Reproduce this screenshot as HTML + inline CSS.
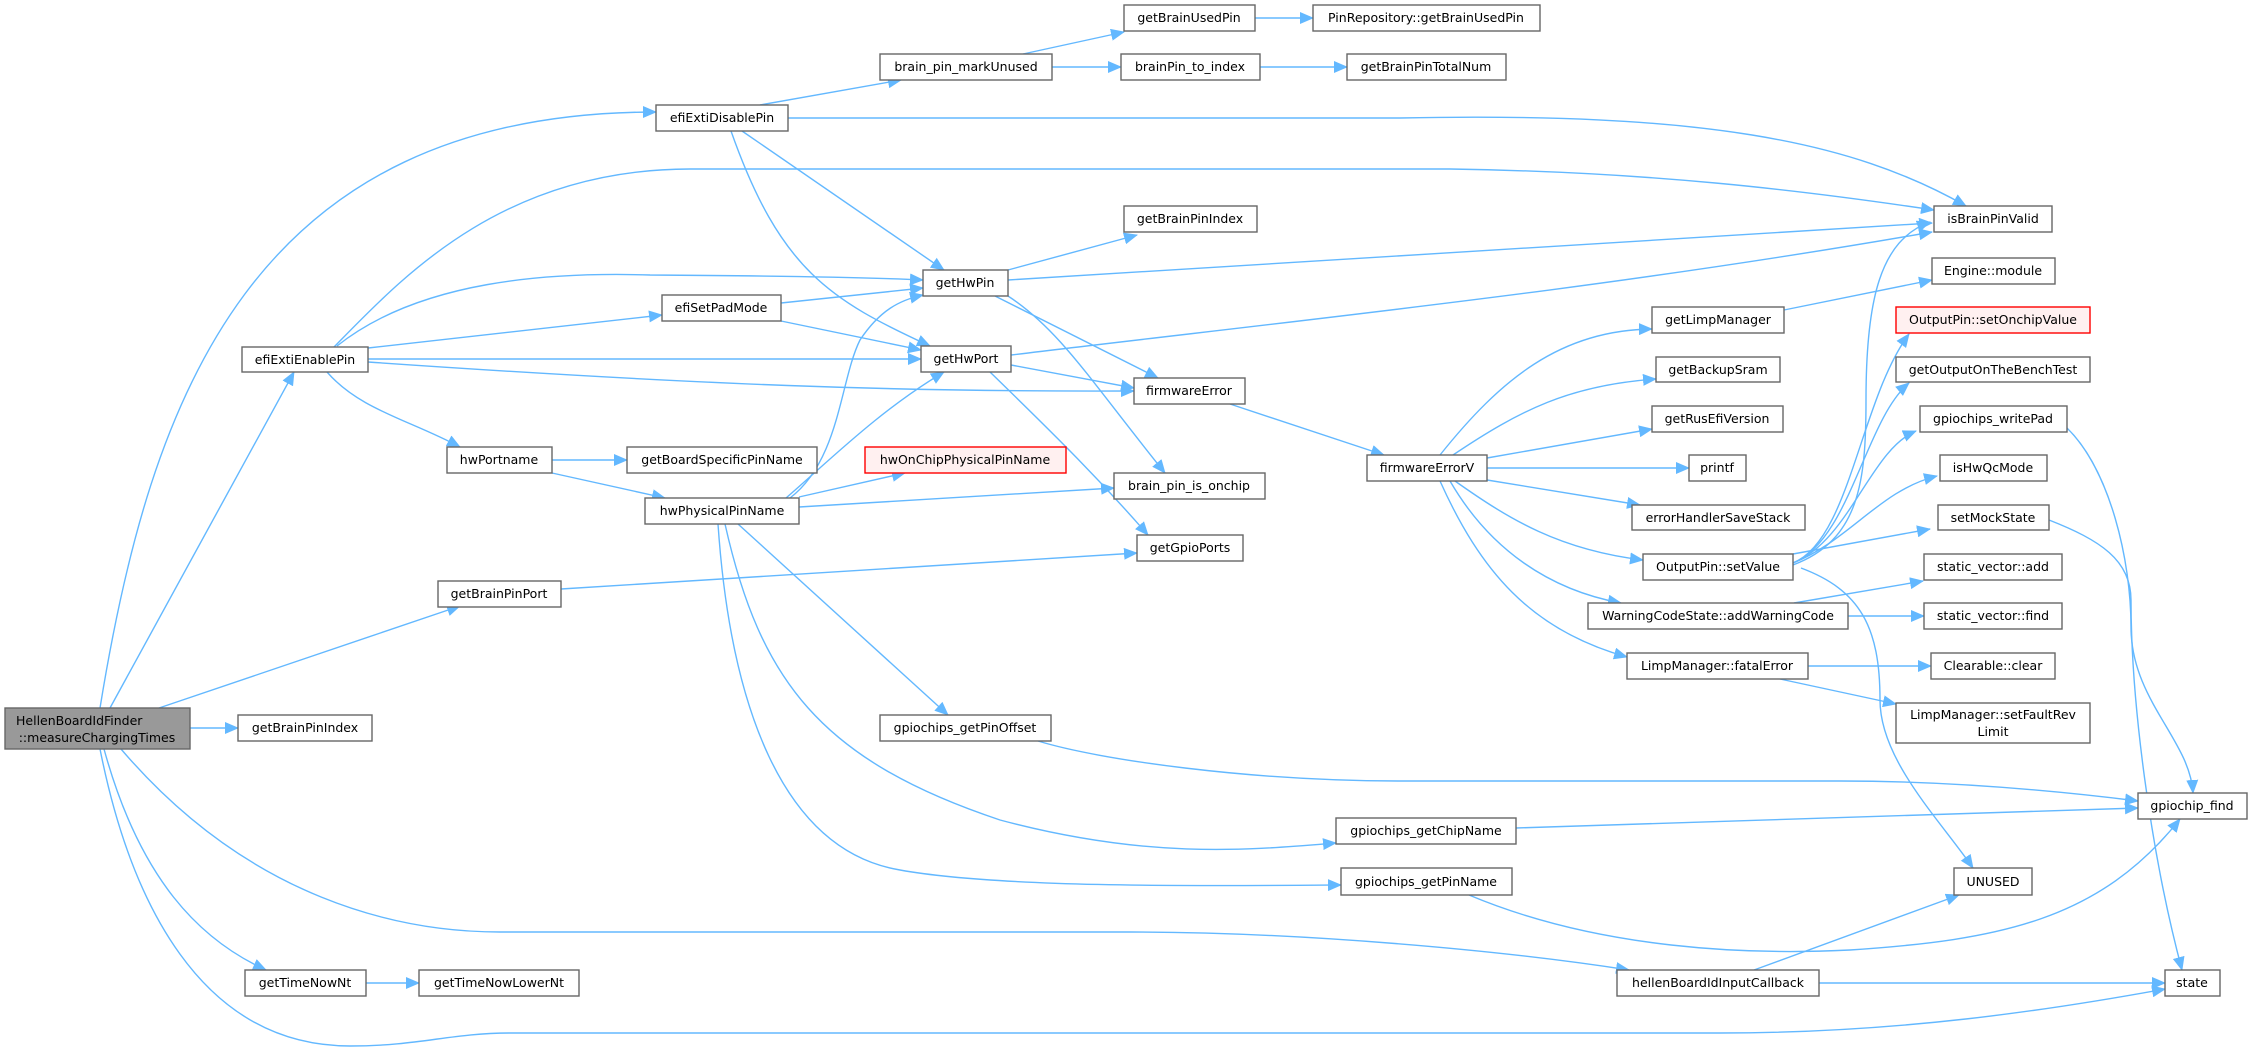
<!DOCTYPE html>
<html><head><meta charset="utf-8"><style>
html,body{margin:0;padding:0;background:#fff;}
svg{display:block;}
text{font-family:"DejaVu Sans","Liberation Sans",sans-serif;font-size:12.5px;fill:#000;}
.n{fill:#fff;stroke:#666;stroke-width:1.4;}
.e{fill:none;stroke:#63b8ff;stroke-width:1.4;}
</style></head><body>
<svg width="2252" height="1052" viewBox="0 0 2252 1052" xmlns="http://www.w3.org/2000/svg">
<defs><marker id="a" markerUnits="userSpaceOnUse" markerWidth="14" markerHeight="12" refX="13" refY="6" orient="auto"><path d="M0,0 L14,6 L0,12 z" fill="#63b8ff"/></marker></defs>
<g class="e" marker-end="url(#a)">
<path d="M100,708 C150,400 250,112 656,112"/>
<path d="M110,708 L294,372"/>
<path d="M159,708 L460,606"/>
<path d="M190,728 L238,728"/>
<path d="M104,749 C140,880 200,940 266,970"/>
<path d="M121,749 C250,900 400,932 500,932 L1130,932 C1300,932 1500,950 1629,970"/>
<path d="M100,749 C130,900 200,1046 350,1046 C420,1046 450,1033 510,1033 L1720,1033 C1900,1033 2050,1010 2165,989"/>
<path d="M760,105 L901,80"/>
<path d="M788,118 L1400,118 C1700,112 1850,140 1966,206"/>
<path d="M742,131 L944,270"/>
<path d="M731,131 C780,270 830,300 930,346"/>
<path d="M1023,54 L1124,32"/>
<path d="M1052,67 L1121,67"/>
<path d="M1255,18 L1313,18"/>
<path d="M1260,67 L1347,67"/>
<path d="M334,347 C400,280 500,169 690,169 L1450,169 C1650,172 1800,190 1934,210"/>
<path d="M337,346 C420,280 550,272 650,275 C800,276 880,278 923,280"/>
<path d="M368,348 L662,315"/>
<path d="M368,359 L921,359"/>
<path d="M368,362 C700,385 900,392 1134,391"/>
<path d="M327,372 C360,410 410,420 460,447"/>
<path d="M781,303 L923,288"/>
<path d="M781,321 L921,350"/>
<path d="M1008,270 L1137,235"/>
<path d="M1008,280 L1932,223"/>
<path d="M995,296 L1158,378"/>
<path d="M1008,296 C1060,330 1090,380 1165,473"/>
<path d="M1011,355 C1300,320 1600,290 1932,232"/>
<path d="M1011,365 L1134,388"/>
<path d="M990,372 C1060,440 1100,480 1148,535"/>
<path d="M552,460 L627,460"/>
<path d="M552,473 L665,498"/>
<path d="M790,498 C840,460 840,380 860,340 C880,310 900,300 923,295"/>
<path d="M786,498 C830,460 880,410 944,372"/>
<path d="M799,497 L905,473"/>
<path d="M799,507 L1114,488"/>
<path d="M738,524 L948,715"/>
<path d="M725,524 C760,680 820,760 1000,820 C1150,860 1250,850 1336,843"/>
<path d="M718,524 C730,700 780,850 900,870 C1000,888 1200,886 1341,885"/>
<path d="M561,589 L1137,553"/>
<path d="M1230,404 L1384,455"/>
<path d="M1440,455 C1500,380 1560,330 1652,329"/>
<path d="M1453,455 C1520,410 1570,385 1656,379"/>
<path d="M1487,458 L1652,429"/>
<path d="M1487,468 L1689,468"/>
<path d="M1487,480 L1640,505"/>
<path d="M1455,481 C1510,520 1560,550 1643,560"/>
<path d="M1450,481 C1490,550 1550,590 1621,603"/>
<path d="M1440,481 C1480,570 1530,630 1627,657"/>
<path d="M1784,310 L1932,280"/>
<path d="M1793,565 C1860,540 1866,480 1866,400 C1866,300 1880,240 1930,222"/>
<path d="M1793,563 C1850,540 1860,400 1909,334"/>
<path d="M1793,563 C1850,540 1865,420 1909,383"/>
<path d="M1793,563 C1850,540 1870,450 1916,431"/>
<path d="M1793,563 C1850,540 1880,490 1937,476"/>
<path d="M1793,554 L1930,529"/>
<path d="M1801,568 C1860,590 1880,627 1880,700 C1880,760 1940,820 1973,868"/>
<path d="M1794,603 L1923,581"/>
<path d="M1848,616 L1924,616"/>
<path d="M1808,666 L1931,666"/>
<path d="M1780,679 L1896,704"/>
<path d="M2067,428 C2110,470 2131,560 2131,627 C2131,700 2190,740 2193,793"/>
<path d="M2049,520 C2100,540 2131,560 2131,600 C2131,700 2150,850 2182,970"/>
<path d="M1038,741 C1100,760 1250,781 1400,781 L1840,781 C1950,781 2050,790 2138,801"/>
<path d="M1516,828 L2138,808"/>
<path d="M1469,895 C1600,950 1750,955 1850,950 C2000,940 2100,920 2180,819"/>
<path d="M1754,970 L1959,895"/>
<path d="M1819,983 L2165,983"/>
<path d="M366,983 L419,983"/>
</g>
<g text-anchor="middle">
<rect x="5" y="708" width="185" height="41" style="fill:#999;stroke:#666;stroke-width:1.4"/>
<text x="16" y="725" text-anchor="start">HellenBoardIdFinder</text><text x="97" y="742">::measureChargingTimes</text>
<rect class="n" x="238" y="715" width="134" height="26"/><text x="305" y="732">getBrainPinIndex</text>
<rect class="n" x="656" y="105" width="132" height="26"/><text x="722" y="122">efiExtiDisablePin</text>
<rect class="n" x="880" y="54" width="172" height="26"/><text x="966" y="71">brain_pin_markUnused</text>
<rect class="n" x="1124" y="5" width="131" height="26"/><text x="1189" y="22">getBrainUsedPin</text>
<rect class="n" x="1313" y="5" width="227" height="26"/><text x="1426" y="22">PinRepository::getBrainUsedPin</text>
<rect class="n" x="1121" y="54" width="139" height="26"/><text x="1190" y="71">brainPin_to_index</text>
<rect class="n" x="1347" y="54" width="159" height="26"/><text x="1426" y="71">getBrainPinTotalNum</text>
<rect class="n" x="1124" y="206" width="133" height="26"/><text x="1190" y="223">getBrainPinIndex</text>
<rect class="n" x="1934" y="206" width="118" height="26"/><text x="1993" y="223">isBrainPinValid</text>
<rect class="n" x="1932" y="258" width="123" height="26"/><text x="1993" y="275">Engine::module</text>
<rect class="n" x="923" y="270" width="85" height="26"/><text x="965" y="287">getHwPin</text>
<rect class="n" x="662" y="295" width="119" height="26"/><text x="721" y="312">efiSetPadMode</text>
<rect class="n" x="1652" y="307" width="132" height="26"/><text x="1718" y="324">getLimpManager</text>
<rect x="1896" y="307" width="194" height="26" style="fill:#fff0f0;stroke:#f00;stroke-width:1.4"/><text x="1993" y="324">OutputPin::setOnchipValue</text>
<rect class="n" x="242" y="347" width="126" height="25"/><text x="305" y="364">efiExtiEnablePin</text>
<rect class="n" x="921" y="346" width="90" height="26"/><text x="966" y="363">getHwPort</text>
<rect class="n" x="1656" y="357" width="124" height="25"/><text x="1718" y="374">getBackupSram</text>
<rect class="n" x="1896" y="357" width="194" height="25"/><text x="1993" y="374">getOutputOnTheBenchTest</text>
<rect class="n" x="1134" y="378" width="111" height="26"/><text x="1189" y="395">firmwareError</text>
<rect class="n" x="1652" y="406" width="131" height="26"/><text x="1717" y="423">getRusEfiVersion</text>
<rect class="n" x="1920" y="406" width="147" height="26"/><text x="1993" y="423">gpiochips_writePad</text>
<rect class="n" x="447" y="447" width="105" height="26"/><text x="499" y="464">hwPortname</text>
<rect class="n" x="627" y="447" width="190" height="26"/><text x="722" y="464">getBoardSpecificPinName</text>
<rect x="865" y="447" width="201" height="26" style="fill:#fff0f0;stroke:#f00;stroke-width:1.4"/><text x="965" y="464">hwOnChipPhysicalPinName</text>
<rect class="n" x="1367" y="455" width="120" height="26"/><text x="1427" y="472">firmwareErrorV</text>
<rect class="n" x="1689" y="455" width="57" height="26"/><text x="1717" y="472">printf</text>
<rect class="n" x="1940" y="455" width="107" height="26"/><text x="1993" y="472">isHwQcMode</text>
<rect class="n" x="1114" y="473" width="151" height="26"/><text x="1189" y="490">brain_pin_is_onchip</text>
<rect class="n" x="645" y="498" width="154" height="26"/><text x="722" y="515">hwPhysicalPinName</text>
<rect class="n" x="1632" y="505" width="173" height="25"/><text x="1718" y="522">errorHandlerSaveStack</text>
<rect class="n" x="1938" y="505" width="111" height="25"/><text x="1993" y="522">setMockState</text>
<rect class="n" x="1137" y="535" width="106" height="26"/><text x="1190" y="552">getGpioPorts</text>
<rect class="n" x="1643" y="554" width="150" height="26"/><text x="1718" y="571">OutputPin::setValue</text>
<rect class="n" x="1924" y="554" width="138" height="26"/><text x="1993" y="571">static_vector::add</text>
<rect class="n" x="438" y="581" width="123" height="26"/><text x="499" y="598">getBrainPinPort</text>
<rect class="n" x="1588" y="603" width="260" height="26"/><text x="1718" y="620">WarningCodeState::addWarningCode</text>
<rect class="n" x="1924" y="603" width="138" height="26"/><text x="1993" y="620">static_vector::find</text>
<rect class="n" x="1627" y="653" width="181" height="26"/><text x="1717" y="670">LimpManager::fatalError</text>
<rect class="n" x="1931" y="653" width="124" height="26"/><text x="1993" y="670">Clearable::clear</text>
<rect class="n" x="1896" y="703" width="194" height="40"/><text x="1993" y="719">LimpManager::setFaultRev</text><text x="1993" y="736">Limit</text>
<rect class="n" x="880" y="715" width="171" height="26"/><text x="965" y="732">gpiochips_getPinOffset</text>
<rect class="n" x="2138" y="793" width="109" height="26"/><text x="2192" y="810">gpiochip_find</text>
<rect class="n" x="1336" y="818" width="180" height="26"/><text x="1426" y="835">gpiochips_getChipName</text>
<rect class="n" x="1954" y="868" width="78" height="27"/><text x="1993" y="886">UNUSED</text>
<rect class="n" x="1341" y="868" width="171" height="27"/><text x="1426" y="886">gpiochips_getPinName</text>
<rect class="n" x="245" y="970" width="121" height="26"/><text x="305" y="987">getTimeNowNt</text>
<rect class="n" x="419" y="970" width="160" height="26"/><text x="499" y="987">getTimeNowLowerNt</text>
<rect class="n" x="1617" y="970" width="202" height="26"/><text x="1718" y="987">hellenBoardIdInputCallback</text>
<rect class="n" x="2165" y="970" width="55" height="26"/><text x="2192" y="987">state</text>
</g>
</svg>
</body></html>
